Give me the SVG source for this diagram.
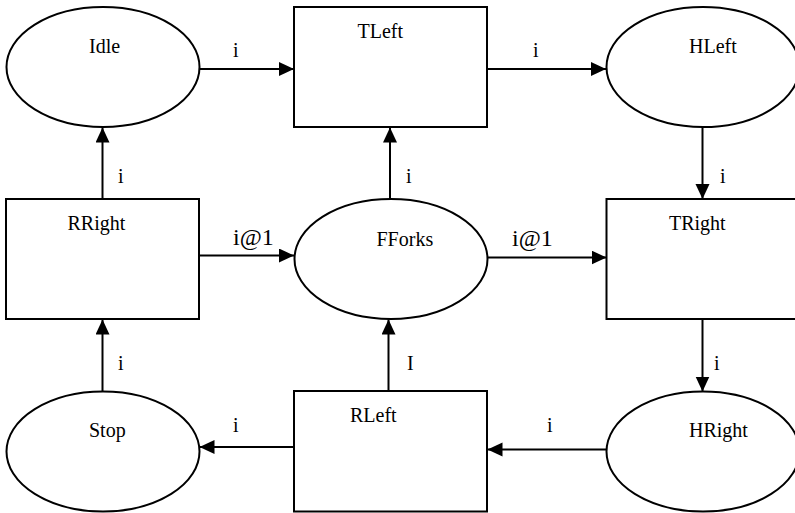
<svg xmlns="http://www.w3.org/2000/svg" width="795" height="513" viewBox="0 0 795 513">
  <style>
    .place { fill: #fff; stroke: #000; stroke-width: 2; }
    .trans { fill: #fff; stroke: #000; stroke-width: 2; }
    .arc { fill: none; stroke: #000; stroke-width: 2; marker-end: url(#head); }
    text { font-family: "Liberation Serif", "Times New Roman", Times, "DejaVu Serif", serif; font-size: 20px; fill: #000; }
    .wide { font-size: 24px; }
  </style>
  <defs>
    <marker id="head" markerUnits="userSpaceOnUse" markerWidth="16" markerHeight="15" refX="15" refY="7" orient="auto">
      <path d="M0,0 L15,7 L0,14 Z" fill="#000"/>
    </marker>
  </defs>
  <rect width="795" height="513" fill="#fff"/>

  <!-- arcs with their inscriptions -->
  <g id="arcs">
    <line class="arc" x1="199.5" y1="69" x2="294" y2="69"/>
    <line class="arc" x1="487" y1="69" x2="606" y2="69"/>
    <line class="arc" x1="102.5" y1="199" x2="102.5" y2="127.5"/>
    <line class="arc" x1="390" y1="199" x2="390" y2="127.5"/>
    <line class="arc" x1="702.5" y1="127" x2="702.5" y2="199"/>
    <line class="arc" x1="199" y1="255.5" x2="294" y2="255.5"/>
    <line class="arc" x1="487" y1="257.5" x2="606.5" y2="257.5"/>
    <line class="arc" x1="102.5" y1="391" x2="102.5" y2="319.5"/>
    <line class="arc" x1="388.5" y1="391" x2="388.5" y2="319.5"/>
    <line class="arc" x1="702.5" y1="319" x2="702.5" y2="391.5"/>
    <line class="arc" x1="294" y1="447" x2="199.5" y2="447"/>
    <line class="arc" x1="606.5" y1="449.5" x2="487.5" y2="449.5"/>

    <text x="233" y="57">i</text>
    <text x="533" y="57">i</text>
    <text x="118" y="183">i</text>
    <text x="406" y="183">i</text>
    <text x="720" y="183">i</text>
    <text class="wide" x="233" y="245">i@1</text>
    <text class="wide" x="512" y="245.5">i@1</text>
    <text x="118" y="370">i</text>
    <text x="407" y="370">I</text>
    <text x="714" y="370">i</text>
    <text x="233" y="431.5">i</text>
    <text x="547" y="431.5">i</text>
  </g>

  <!-- places -->
  <g id="Idle">
    <ellipse class="place" cx="103" cy="67" rx="96.5" ry="60"/>
    <text x="89" y="53">Idle</text>
  </g>
  <g id="HLeft">
    <ellipse class="place" cx="703" cy="67" rx="96.5" ry="60"/>
    <text x="689" y="53">HLeft</text>
  </g>
  <g id="FForks">
    <ellipse class="place" cx="391" cy="259" rx="96.5" ry="60"/>
    <text x="376.5" y="245.5">FForks</text>
  </g>
  <g id="Stop">
    <ellipse class="place" cx="103" cy="451.5" rx="96.5" ry="60"/>
    <text x="89" y="436.5">Stop</text>
  </g>
  <g id="HRight">
    <ellipse class="place" cx="703" cy="451.5" rx="96.5" ry="60"/>
    <text x="689" y="436.5">HRight</text>
  </g>

  <!-- transitions -->
  <g id="TLeft">
    <rect class="trans" x="294" y="7" width="193" height="120"/>
    <text x="357.5" y="38">TLeft</text>
  </g>
  <g id="RRight">
    <rect class="trans" x="6" y="199" width="193" height="120"/>
    <text x="67.5" y="230">RRight</text>
  </g>
  <g id="TRight">
    <rect class="trans" x="606.5" y="199" width="193" height="120"/>
    <text x="669" y="230">TRight</text>
  </g>
  <g id="RLeft">
    <rect class="trans" x="294" y="391" width="193" height="120.5"/>
    <text x="350" y="421.5">RLeft</text>
  </g>
</svg>
